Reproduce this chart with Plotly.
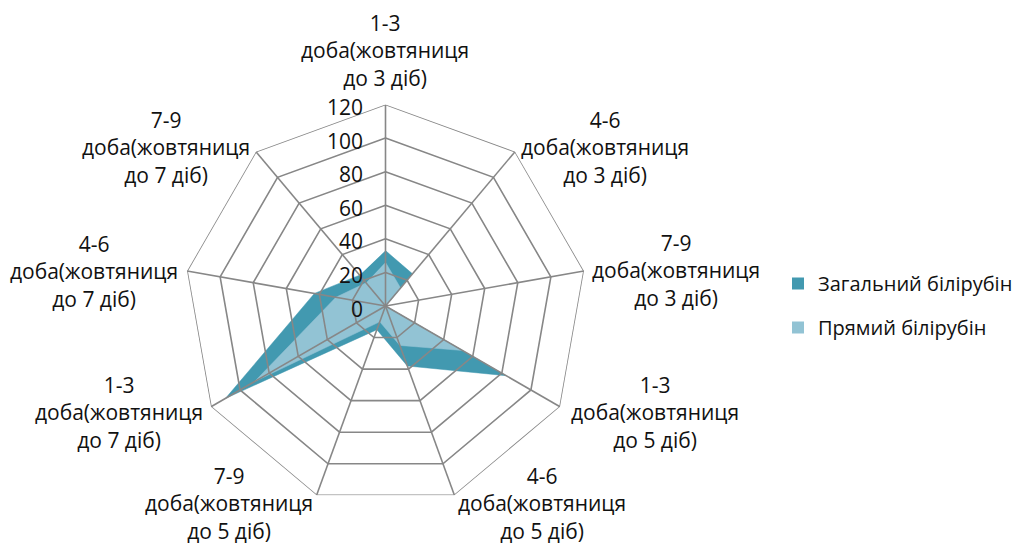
import plotly.graph_objects as go

categories = [
    "1-3 доба(жовтяниця до 3 діб)",
    "4-6 доба(жовтяниця до 3 діб)",
    "7-9 доба(жовтяниця до 3 діб)",
    "1-3 доба(жовтяниця до 5 діб)",
    "4-6 доба(жовтяниця до 5 діб)",
    "7-9 доба(жовтяниця до 5 діб)",
    "1-3 доба(жовтяниця до 7 діб)",
    "4-6 доба(жовтяниця до 7 діб)",
    "7-9 доба(жовтяниця до 7 діб)",
]
label_lines = [
    ["1-3", "доба(жовтяниця", "до 3 діб)"],
    ["4-6", "доба(жовтяниця", "до 3 діб)"],
    ["7-9", "доба(жовтяниця", "до 3 діб)"],
    ["1-3", "доба(жовтяниця", "до 5 діб)"],
    ["4-6", "доба(жовтяниця", "до 5 діб)"],
    ["7-9", "доба(жовтяниця", "до 5 діб)"],
    ["1-3", "доба(жовтяниця", "до 7 діб)"],
    ["4-6", "доба(жовтяниця", "до 7 діб)"],
    ["7-9", "доба(жовтяниця", "до 7 діб)"],
]
total_bilirubin = [33, 25, 0, 83, 38, 15, 110, 43, 24]
direct_bilirubin = [26, 14, 0, 53, 25, 10, 90, 30, 18]
series_names = ["Загальний білірубін", "Прямий білірубін"]
radial_ticks = [0, 20, 40, 60, 80, 100, 120]

# The page body adds an 8px margin at the top-left of the figure
OFF = 8
W, H = 1025 - OFF, 545 - OFF
# page-pixel centres of the category label blocks
label_pos = [(385, 51), (605, 147), (676, 270), (655, 412), (542, 503),
             (229, 503), (119, 412), (94, 271), (166, 147)]

DARK = "#4299B0"
LIGHT = "#92C3D4"
GRID = "#878787"
FONT = "Open Sans"
TXT = "#111111"

fig = go.Figure()
fig.add_trace(go.Scatterpolar(
    r=total_bilirubin, theta=categories, name=series_names[0],
    fill="toself", fillcolor=DARK, mode="lines",
    line=dict(color=DARK, width=0.5), showlegend=False,
))
fig.add_trace(go.Scatterpolar(
    r=direct_bilirubin, theta=categories, name=series_names[1],
    fill="toself", fillcolor=LIGHT, mode="lines",
    line=dict(color=LIGHT, width=0.5), showlegend=False,
))

# grid drawn above fills (as in the original)
for v in radial_ticks[1:]:
    fig.add_trace(go.Scatterpolar(
        r=[v] * (len(categories) + 1), theta=categories + categories[:1],
        mode="lines", line=dict(color=GRID, width=1.6),
        showlegend=False, hoverinfo="skip",
    ))
for c in categories:
    fig.add_trace(go.Scatterpolar(
        r=[radial_ticks[0], radial_ticks[-1]], theta=[c, c],
        mode="lines", line=dict(color=GRID, width=1.6),
        showlegend=False, hoverinfo="skip",
    ))

# legend entries (square swatches like the original)
for name, col, grp in [(series_names[0], DARK, "a"), (series_names[1], LIGHT, "b")]:
    fig.add_trace(go.Barpolar(
        r=[0], theta=[categories[0]], name=name,
        marker=dict(color=col, line=dict(width=0)),
        legendgroup=grp, showlegend=True, hoverinfo="skip",
    ))

annotations = []
for lines, (px, py) in zip(label_lines, label_pos):
    annotations.append(dict(
        text="<br>".join(lines), x=(px - OFF) / W, y=1 - (py - OFF) / H,
        xref="paper", yref="paper", xanchor="center", yanchor="middle",
        showarrow=False, align="center",
        font=dict(family=FONT, size=21, color=TXT),
    ))

# polar centre (page px) and radius
cx, cy, rad = 385.5, 306, 201.5
fx, fy = cx - OFF, cy - OFF

fig.update_layout(
    width=W, height=H,
    margin=dict(l=0, r=0, t=0, b=0),
    paper_bgcolor="white",
    font=dict(family=FONT, size=21, color=TXT),
    polar=dict(
        domain=dict(x=[(fx - rad) / W, (fx + rad) / W],
                    y=[1 - (fy + rad) / H, 1 - (fy - rad) / H]),
        gridshape="linear",
        bgcolor="white",
        angularaxis=dict(
            direction="clockwise", rotation=90, type="category",
            categoryorder="array", categoryarray=categories,
            showgrid=False, showline=False, ticks="", showticklabels=False,
        ),
        radialaxis=dict(
            range=[0, 120], tickvals=radial_ticks, angle=90, side="counterclockwise",
            showgrid=False, showline=False, ticks="outside", ticklen=3,
            tickcolor="rgba(0,0,0,0)",
            tickfont=dict(family=FONT, size=21, color=TXT),
        ),
    ),
    annotations=annotations,
    legend=dict(
        x=770 / W, y=1 - 297.5 / H, xanchor="left", yanchor="middle",
        font=dict(family=FONT, size=20, color=TXT),
        tracegroupgap=15,
    ),
    showlegend=True,
)

fig.write_html("out.html")
